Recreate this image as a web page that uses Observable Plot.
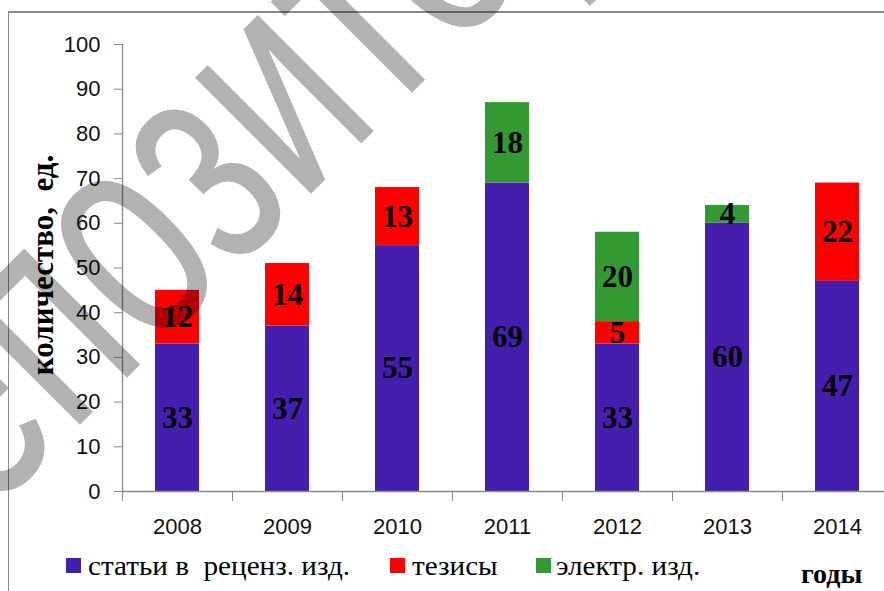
<!DOCTYPE html>
<html><head><meta charset="utf-8">
<script src="https://cdn.jsdelivr.net/npm/d3@7"></script>
<script src="https://cdn.jsdelivr.net/npm/@observablehq/plot@0.6"></script>
<style>
body{margin:0;background:#fff;}
#wrap{position:relative;width:884px;height:591px;overflow:hidden;background:#fff;}
#frame{position:absolute;left:8px;top:11px;width:900px;height:600px;border-top:2px solid #8a8a8a;border-left:1.5px solid #8a8a8a;}
#chart{position:absolute;left:0;top:0;}
.ylab{position:absolute;left:42px;top:265px;transform:translate(-50%,-50%) rotate(-90deg);font-family:"Liberation Serif";font-weight:bold;font-size:31px;white-space:pre;color:#000;line-height:1;}
.leg{position:absolute;top:552px;font-family:"Liberation Serif";font-size:27px;white-space:pre;color:#000;line-height:28px;transform-origin:0 50%;transform:scaleX(1.08);}
.sw{position:absolute;width:15px;height:15px;top:558px;}
.years{position:absolute;left:801px;top:561px;font-family:"Liberation Serif";font-weight:bold;font-size:28px;color:#000;line-height:26px;}
#wm{position:absolute;left:0;top:0;pointer-events:none;}
</style></head>
<body>
<div id="wrap">
  <div id="frame"></div>
  <div id="chart"></div>
</div>
<script>
const years = ["2008", "2009", "2010", "2011", "2012", "2013", "2014"];
const articles = [33, 37, 55, 69, 33, 60, 47];
const theses = [12, 14, 13, 0, 5, 0, 22];
const electronic = [0, 0, 0, 18, 20, 4, 0];
const seriesNames = ["статьи в  реценз. изд.", "тезисы", "электр. изд."];
const seriesColors = ["#461EAF", "#FF0000", "#339933"];
const yTicks = [0, 10, 20, 30, 40, 50, 60, 70, 80, 90, 100];
const yLabel = "количество,  ед.";
const xLabel = "годы";
const watermark = "репозиторий";

const seriesValues = [articles, theses, electronic];
const rows = [];
years.forEach((yr, i) => {
  seriesNames.forEach((s, j) => rows.push({year: yr, series: s, value: seriesValues[j][i]}));
});

const chart = Plot.plot({
  width: 884,
  height: 545,
  marginLeft: 122,
  marginTop: 44,
  marginBottom: 54,
  marginRight: 0,
  style: {fontFamily: "Liberation Sans", fontSize: "22px", background: "transparent", overflow: "visible"},
  x: {domain: years, range: [122, 892], paddingInner: 0.6, paddingOuter: 0.3, label: null},
  y: {domain: [0, 100], label: null},
  color: {domain: seriesNames, range: seriesColors},
  marks: [
    Plot.barY(rows, {x: "year", y: "value", fill: "series"}),
    Plot.ruleY([0], {stroke: "#8a8a8a", strokeWidth: 1.3}),
    Plot.ruleX([years[0]], {y1: 0, y2: 100, dx: -55, stroke: "#8a8a8a", strokeWidth: 1.3}),
    Plot.axisY({ticks: yTicks, tickSize: 8, fill: "none", stroke: "#8a8a8a", label: null}),
    Plot.axisY({ticks: yTicks, tickSize: 0, tickPadding: 22, fill: "#111", label: null}),
    Plot.axisX({tickSize: 10, fill: "none", stroke: "#8a8a8a", dx: -55, label: null}),
    Plot.axisX({tickSize: 0, tickPadding: 27, fill: "#111", label: null}),
    Plot.text(rows.filter(d => d.value > 0), Plot.stackY({
      x: "year", y: "value", z: "series", text: d => String(d.value),
      fontFamily: "Liberation Serif", fontWeight: "bold", fontSize: 31, fill: "#000"
    }))
  ]
});
document.getElementById("chart").appendChild(chart);

const wrap = document.getElementById("wrap");
const yl = document.createElement("div");
yl.className = "ylab"; yl.textContent = yLabel; wrap.appendChild(yl);

const legPos = [[66, 88], [390, 412], [536, 556]];
seriesNames.forEach((s, j) => {
  const sw = document.createElement("div");
  sw.className = "sw"; sw.style.left = legPos[j][0] + "px"; sw.style.background = seriesColors[j];
  wrap.appendChild(sw);
  const t = document.createElement("div");
  t.className = "leg"; t.style.left = legPos[j][1] + "px"; t.textContent = s;
  wrap.appendChild(t);
});
const yx = document.createElement("div");
yx.className = "years"; yx.textContent = xLabel; wrap.appendChild(yx);

// watermark overlay
const ns = "http://www.w3.org/2000/svg";
const wm = document.createElementNS(ns, "svg");
wm.setAttribute("id", "wm"); wm.setAttribute("width", 884); wm.setAttribute("height", 591);
const wt = document.createElementNS(ns, "text");
wt.setAttribute("transform", "translate(278,95) rotate(-45) scale(0.92,1.35)");
wt.setAttribute("text-anchor", "middle");
wt.setAttribute("dy", "0.3em");
wt.setAttribute("font-family", "Liberation Sans");
wt.setAttribute("font-size", "230");
wt.setAttribute("fill", "#000");
wt.setAttribute("fill-opacity", "0.3");
wt.textContent = watermark;
wm.appendChild(wt);
wrap.appendChild(wm);
</script>
</body></html>
